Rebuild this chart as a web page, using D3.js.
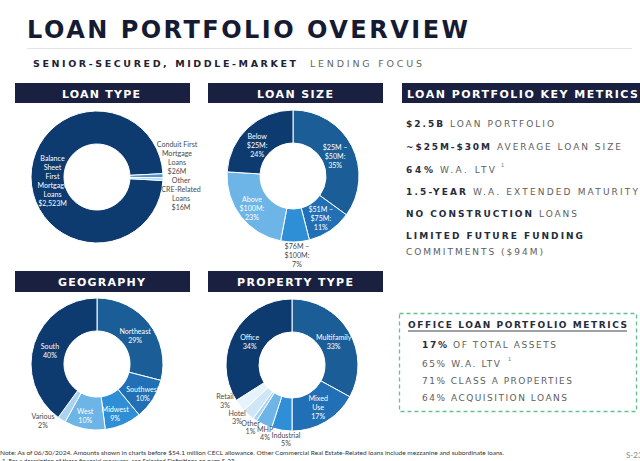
<!DOCTYPE html>
<html><head><meta charset="utf-8">
<script src="https://cdn.jsdelivr.net/npm/d3@7"></script>
<style>body{margin:0;background:#fff;} svg{display:block;}</style>
</head><body>
<script>
// ---------------- DATA ----------------
const loanTypeCategories = ["Balance\nSheet\nFirst\nMortgage\nLoans", "Conduit First\nMortgage\nLoans", "Other\nCRE-Related\nLoans"];
const loanTypeValues = [2523, 26, 16];

const loanSizeCategories = ["$25M –\n$50M:", "$51M –\n$75M:", "$76M –\n$100M:", "Above\n$100M:", "Below\n$25M:"];
const loanSizeValues = [35, 11, 7, 23, 24];

const geographyCategories = ["Northeast", "Southwest", "Midwest", "West", "Various", "South"];
const geographyValues = [29, 10, 9, 10, 2, 40];

const propertyCategories = ["Multifamily", "Mixed\nUse", "Industrial", "MHP", "Other", "Hotel", "Retail", "Office"];
const propertyValues = [33, 17, 5, 4, 1, 3, 3, 34];

const keyMetricsBold = ["$2.5B", "~$25M-$30M", "64%", "1.5-YEAR", "NO CONSTRUCTION", "LIMITED FUTURE FUNDING", ""];
const keyMetricsText = ["LOAN PORTFOLIO", "AVERAGE LOAN SIZE", "W.A. LTV", "W.A. EXTENDED MATURITY", "LOANS", "", "COMMITMENTS ($94M)"];

const officeMetricsBold = ["17%", "", "", ""];
const officeMetricsText = ["OF TOTAL ASSETS", "65% W.A. LTV", "71% CLASS A PROPERTIES", "64% ACQUISITION LOANS"];

const headerLabels = ["LOAN TYPE", "LOAN SIZE", "LOAN PORTFOLIO KEY METRICS", "GEOGRAPHY", "PROPERTY TYPE"];

// ---------------- STYLE / LAYOUT ----------------
const W = 640, H = 461;
const NAVY = "#1a2140";
const blues = ["#0d3a6f", "#1b5e97", "#2170b6", "#2f8fd6", "#6db4e7", "#a9d3f1", "#cfe6f7", "#e6f3fc"];

const svg = d3.select("body").append("svg").attr("width", W).attr("height", H);

// Title
svg.append("text").attr("x", 27).attr("y", 37.5)
  .attr("font-family", "DejaVu Sans").attr("font-weight", "bold").attr("font-size", 24)
  .attr("fill", "#141b33").attr("textLength", 441).attr("lengthAdjust", "spacing")
  .text("LOAN PORTFOLIO OVERVIEW");
svg.append("line").attr("x1", 27).attr("x2", 632).attr("y1", 48.5).attr("y2", 48.5)
  .attr("stroke", "#e4e4e4").attr("stroke-width", 1);
const sub = svg.append("g").attr("font-family", "DejaVu Sans").attr("font-size", 9.5);
sub.append("text").attr("x", 33).attr("y", 67).attr("font-weight", "bold").attr("fill", "#1e2333")
  .attr("textLength", 263).attr("lengthAdjust", "spacing").text("SENIOR-SECURED, MIDDLE-MARKET");
sub.append("text").attr("x", 310).attr("y", 67).attr("fill", "#666")
  .attr("textLength", 112).attr("lengthAdjust", "spacing").text("LENDING FOCUS");

// Header boxes
const headerLayout = [
  {x: 15, y: 83, w: 175, h: 20, tx: 62, tw: 78, ty: 97.5},
  {x: 208, y: 83, w: 175, h: 20, tx: 257, tw: 76, ty: 97.5},
  {x: 402, y: 83, w: 238, h: 20, tx: 407, tw: 231, ty: 97.5},
  {x: 15, y: 271, w: 175, h: 21, tx: 58, tw: 87, ty: 285.5},
  {x: 208, y: 271, w: 175, h: 21, tx: 237, tw: 116, ty: 285.5}
];
headerLabels.forEach((t, i) => {
  const L = headerLayout[i];
  svg.append("rect").attr("x", L.x).attr("y", L.y).attr("width", L.w).attr("height", L.h).attr("fill", NAVY);
  svg.append("text").attr("x", L.tx).attr("y", L.ty).attr("font-family", "DejaVu Sans")
    .attr("font-weight", "bold").attr("font-size", 11).attr("fill", "#fff")
    .attr("textLength", L.tw).attr("lengthAdjust", "spacing").text(t);
});

// Donuts
const R = 66, r = 33;
function drawDonut(o) {
  const g = svg.append("g").attr("transform", `translate(${o.cx},${o.cy})`);
  const pie = d3.pie().sort(null).startAngle(o.start).endAngle(o.start + 2 * Math.PI);
  const arcs = pie(o.vals);
  const arc = d3.arc().innerRadius(r).outerRadius(R);
  const mid = d3.arc().innerRadius((r + R) / 2).outerRadius((r + R) / 2);
  const color = d3.scaleOrdinal(o.cats, o.colors);
  g.selectAll("path").data(arcs).join("path")
    .attr("d", arc).attr("fill", (d, i) => color(o.cats[i]))
    .attr("stroke", "#fff").attr("stroke-width", 1);
  arcs.forEach((d, i) => {
    const L = o.layout[i] || {};
    let x, y;
    if (L.out) { x = L.out[0]; y = L.out[1]; }
    else { const c = mid.centroid(d); x = c[0] + (L.n ? L.n[0] : 0); y = c[1] + (L.n ? L.n[1] : 0); }
    const lines = o.cats[i].split("\n").concat([o.fmt(o.vals[i])]);
    const lh = L.lh || 9;
    const t = g.append("text").attr("font-family", "Lato").attr("font-size", 7.1)
      .attr("text-anchor", "middle").attr("fill", L.out ? "#4a4a4a" : "#fff");
    lines.forEach((s, k) => {
      t.append("tspan").attr("x", x).attr("y", y - (lines.length - 1) * lh / 2 + k * lh + 2.6).text(s);
    });
  });
}
const deg = Math.PI / 180;
const pct = v => v + "%";

drawDonut({cx: 97, cy: 177, cats: loanTypeCategories, vals: loanTypeValues,
  colors: [blues[0], "#4f97d3", blues[5]], start: 93 * deg,
  fmt: v => "$" + d3.format(",")(v) + "M",
  layout: [{n: [5, 4]}, {out: [80, -19]}, {out: [84, 17]}]});

drawDonut({cx: 293, cy: 176, cats: loanSizeCategories, vals: loanSizeValues,
  colors: [blues[1], blues[2], blues[3], blues[4], blues[0]], start: 0,
  fmt: pct,
  layout: [{n: [-2, 3]}, {n: [0, 1]}, {out: [4, 79]}, {n: [-2, 2]}, {n: [-2, 5]}]});

drawDonut({cx: 97, cy: 364, cats: geographyCategories, vals: geographyValues,
  colors: [blues[1], blues[2], blues[3], blues[4], blues[5], blues[0]], start: 0,
  fmt: pct,
  layout: [{n: [-1, 2]}, {n: [4, 3.5]}, {n: [-1.5, 4]}, {n: [-2.5, 3.5]}, {out: [-54, 57]}, {n: [0, 2]}]});

drawDonut({cx: 292, cy: 365, cats: propertyCategories, vals: propertyValues,
  colors: [blues[1], blues[2], blues[3], blues[4], blues[5], blues[6], blues[7], blues[0]], start: 0,
  fmt: pct,
  layout: [{n: [-1, 2]}, {n: [1, 0]}, {out: [-6, 74.5], lh: 8}, {out: [-27, 68.5], lh: 8},
           {out: [-41.5, 62], lh: 8}, {out: [-55, 52.5], lh: 7.5}, {out: [-67, 36], lh: 8.5}, {n: [1, 1]}]});

// Key metrics
const kmLayout = [
  {y: 127, bw: 37, rx: 450, rw: 104},
  {y: 150, bw: 84, rx: 497, rw: 124},
  {y: 172.5, bw: 27, rx: 440, rw: 55, sup: 501},
  {y: 195, bw: 60, rx: 473, rw: 165},
  {y: 217, bw: 126, rx: 539, rw: 38},
  {y: 239, bw: 177},
  {y: 255, rx: 406, rw: 137}
];
const km = svg.append("g").attr("font-family", "DejaVu Sans").attr("font-size", 9);
keyMetricsBold.forEach((b, i) => {
  const L = kmLayout[i];
  if (b) km.append("text").attr("x", 406).attr("y", L.y).attr("font-weight", "bold").attr("fill", "#262c3b")
    .attr("textLength", L.bw).attr("lengthAdjust", "spacing").text(b);
  const t = keyMetricsText[i];
  if (t) km.append("text").attr("x", L.rx).attr("y", L.y).attr("fill", "#5e5e5e")
    .attr("textLength", L.rw).attr("lengthAdjust", "spacing").text(t);
  if (L.sup) km.append("text").attr("x", L.sup).attr("y", L.y - 6).attr("font-size", 5).attr("fill", "#777").text("1");
});

// Office box
svg.append("rect").attr("x", 399.5).attr("y", 313.5).attr("width", 237).attr("height", 98)
  .attr("fill", "none").attr("stroke", "#5fc48d").attr("stroke-width", 1.3).attr("stroke-dasharray", "4,3");
svg.append("text").attr("x", 408).attr("y", 328).attr("font-family", "DejaVu Sans").attr("font-size", 9)
  .attr("font-weight", "bold").attr("fill", "#262c3b").attr("textLength", 219).attr("lengthAdjust", "spacing")
  .text("OFFICE LOAN PORTFOLIO METRICS");
svg.append("line").attr("x1", 408).attr("x2", 627).attr("y1", 331).attr("y2", 331).attr("stroke", "#262c3b").attr("stroke-width", 0.9);
const omLayout = [
  {y: 348, bw: 25, rx: 453, rw: 103},
  {y: 366.5, rx: 422, rw: 78, sup: 508},
  {y: 383.5, rx: 422, rw: 150},
  {y: 401, rx: 422, rw: 145}
];
const om = svg.append("g").attr("font-family", "DejaVu Sans").attr("font-size", 9);
officeMetricsText.forEach((t, i) => {
  const L = omLayout[i];
  const b = officeMetricsBold[i];
  if (b) om.append("text").attr("x", 422).attr("y", L.y).attr("font-weight", "bold").attr("fill", "#262c3b")
    .attr("textLength", L.bw).attr("lengthAdjust", "spacing").text(b);
  om.append("text").attr("x", L.rx).attr("y", L.y).attr("fill", "#5e5e5e")
    .attr("textLength", L.rw).attr("lengthAdjust", "spacing").text(t);
  if (L.sup) om.append("text").attr("x", L.sup).attr("y", L.y - 6).attr("font-size", 5).attr("fill", "#777").text("1");
});

// Footnotes
const fn = svg.append("g").attr("font-family", "Lato").attr("font-size", 6.3).attr("fill", "#333");
fn.append("text").attr("x", 0).attr("y", 454.5).attr("textLength", 504).attr("lengthAdjust", "spacingAndGlyphs")
  .text("Note: As of 06/30/2024. Amounts shown in charts before $54.1 million CECL allowance.  Other Commercial Real Estate-Related loans include mezzanine and subordinate loans.");
fn.append("text").attr("x", 2).attr("y", 462.5).attr("textLength", 234).attr("lengthAdjust", "spacingAndGlyphs")
  .text("1.  For a description of these financial measures, see Selected Definitions on page S-23.");
svg.append("text").attr("x", 626).attr("y", 458).attr("font-family", "Lato").attr("font-size", 8).attr("fill", "#888").text("S-23");
</script>
</body></html>
